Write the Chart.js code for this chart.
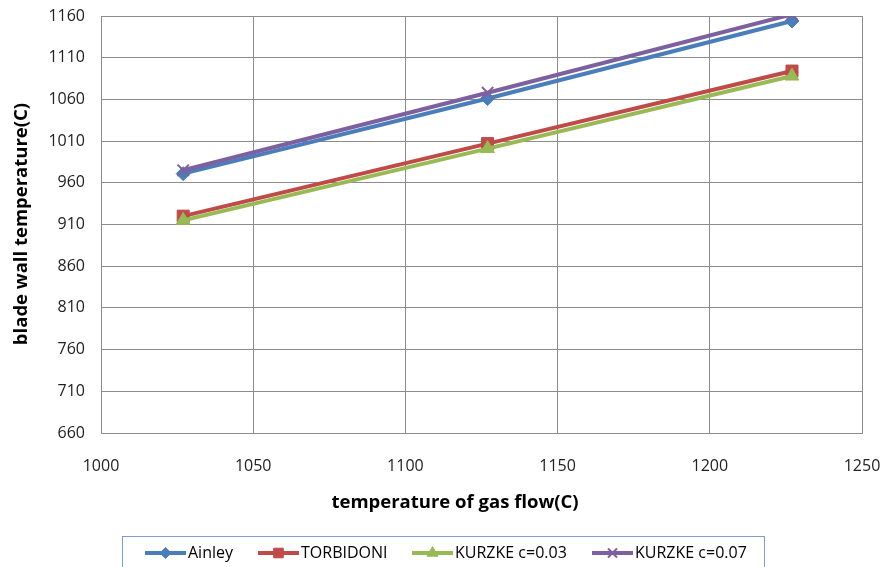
<!DOCTYPE html>
<html><head><meta charset="utf-8">
<script src="https://cdn.jsdelivr.net/npm/chart.js@4/dist/chart.umd.min.js"></script>
<style>html,body{margin:0;padding:0;background:#fff;overflow:hidden}#c{display:block}</style>
</head><body>
<canvas id="c" width="883" height="567"></canvas>
<script>
const xValues = [1027, 1127, 1227];
const ainley = [971, 1061, 1154];
const torbidoni = [920, 1007, 1094];
const kurzke003 = [915, 1001, 1088];
const kurzke007 = [975, 1068, 1162];
const seriesNames = ['Ainley', 'TORBIDONI', 'KURZKE c=0.03', 'KURZKE c=0.07'];
const xTitle = 'temperature of gas flow(C)';
const yTitle = 'blade wall temperature(C)';
const xMin = 1000, xMax = 1250, xStep = 50;
const yMin = 660, yMax = 1160, yStep = 50;

const FONT = "'Open Sans', 'DejaVu Sans', sans-serif";
const colors = ['#4A7EBB', '#BE4B48', '#98B954', '#7D60A0'];
const styles = ['rectRot', 'rect', 'triangle', 'crossRot'];
const radii = [7, 8.5, 8, 8];
const allSeries = [ainley, torbidoni, kurzke003, kurzke007];

const datasets = allSeries.map((vals, i) => ({
  label: seriesNames[i],
  data: xValues.map((x, j) => ({x: x, y: vals[j]})),
  borderColor: colors[i],
  backgroundColor: colors[i],
  pointBackgroundColor: colors[i],
  pointBorderColor: colors[i],
  pointStyle: styles[i],
  pointRadius: radii[i],
  pointBorderWidth: styles[i] === 'crossRot' ? 2 : 1,
  borderWidth: 4,
  tension: 0,
  order: 4 - i
}));

function drawMarker(ctx, i, x, y, r) {
  ctx.save();
  ctx.fillStyle = colors[i];
  ctx.strokeStyle = colors[i];
  const bw = styles[i] === 'crossRot' ? 2 : 1;
  ctx.lineWidth = bw;
  Chart.helpers.drawPoint(ctx, {pointStyle: styles[i], radius: r, rotation: 0, borderWidth: bw}, x, y);
  ctx.restore();
}

const titlesAndLegend = {
  id: 'titlesAndLegend',
  afterDraw(chart) {
    const ctx = chart.ctx;
    ctx.save();
    ctx.fillStyle = '#000';
    ctx.font = "bold 18.5px " + FONT;
    ctx.textAlign = 'center';
    ctx.textBaseline = 'middle';
    ctx.fillText(xTitle, 455, 503);
    ctx.save();
    ctx.translate(22, 224);
    ctx.rotate(-Math.PI / 2);
    ctx.fillText(yTitle, 0, 0);
    ctx.restore();

    ctx.strokeStyle = '#7BA0CD';
    ctx.lineWidth = 1;
    ctx.strokeRect(122.5, 536.5, 642, 60);
    const starts = [145, 258, 412, 592];
    const ly = 553;
    ctx.font = "16px " + FONT;
    ctx.textAlign = 'left';
    for (let i = 0; i < 4; i++) {
      const x0 = starts[i];
      ctx.strokeStyle = colors[i];
      ctx.lineWidth = 4;
      ctx.beginPath();
      ctx.moveTo(x0, ly);
      ctx.lineTo(x0 + 41, ly);
      ctx.stroke();
      drawMarker(ctx, i, x0 + 20.5, ly, radii[i] * 0.8);
      ctx.fillStyle = '#000';
      ctx.fillText(seriesNames[i], x0 + 43, ly);
    }
    ctx.restore();
  }
};

function zeroPad(s) { s.paddingLeft = 0; s.paddingRight = 0; s.paddingTop = 0; s.paddingBottom = 0; }

new Chart(document.getElementById('c'), {
  type: 'line',
  data: {datasets: datasets},
  options: {
    responsive: false,
    animation: false,
    devicePixelRatio: 1,
    layout: {padding: {left: 0, top: 16, right: 21, bottom: 54}},
    plugins: {legend: {display: false}, tooltip: {enabled: false}},
    scales: {
      x: {
        type: 'linear', min: xMin, max: xMax,
        afterFit(s) { s.height = 80; zeroPad(s); },
        ticks: {stepSize: xStep, padding: 24, color: '#222', font: {family: FONT, size: 16}, maxRotation: 0,
                callback: v => String(v)},
        grid: {color: '#8C8C8C', lineWidth: 1, drawTicks: false},
        border: {color: '#8C8C8C', width: 1}
      },
      y: {
        type: 'linear', min: yMin, max: yMax,
        afterFit(s) { s.width = 101; zeroPad(s); },
        ticks: {stepSize: yStep, padding: 16, color: '#222', font: {family: FONT, size: 16},
                callback: v => String(v)},
        grid: {color: '#8C8C8C', lineWidth: 1, drawTicks: false},
        border: {color: '#8C8C8C', width: 1}
      }
    }
  },
  plugins: [titlesAndLegend]
});
</script>
</body></html>
